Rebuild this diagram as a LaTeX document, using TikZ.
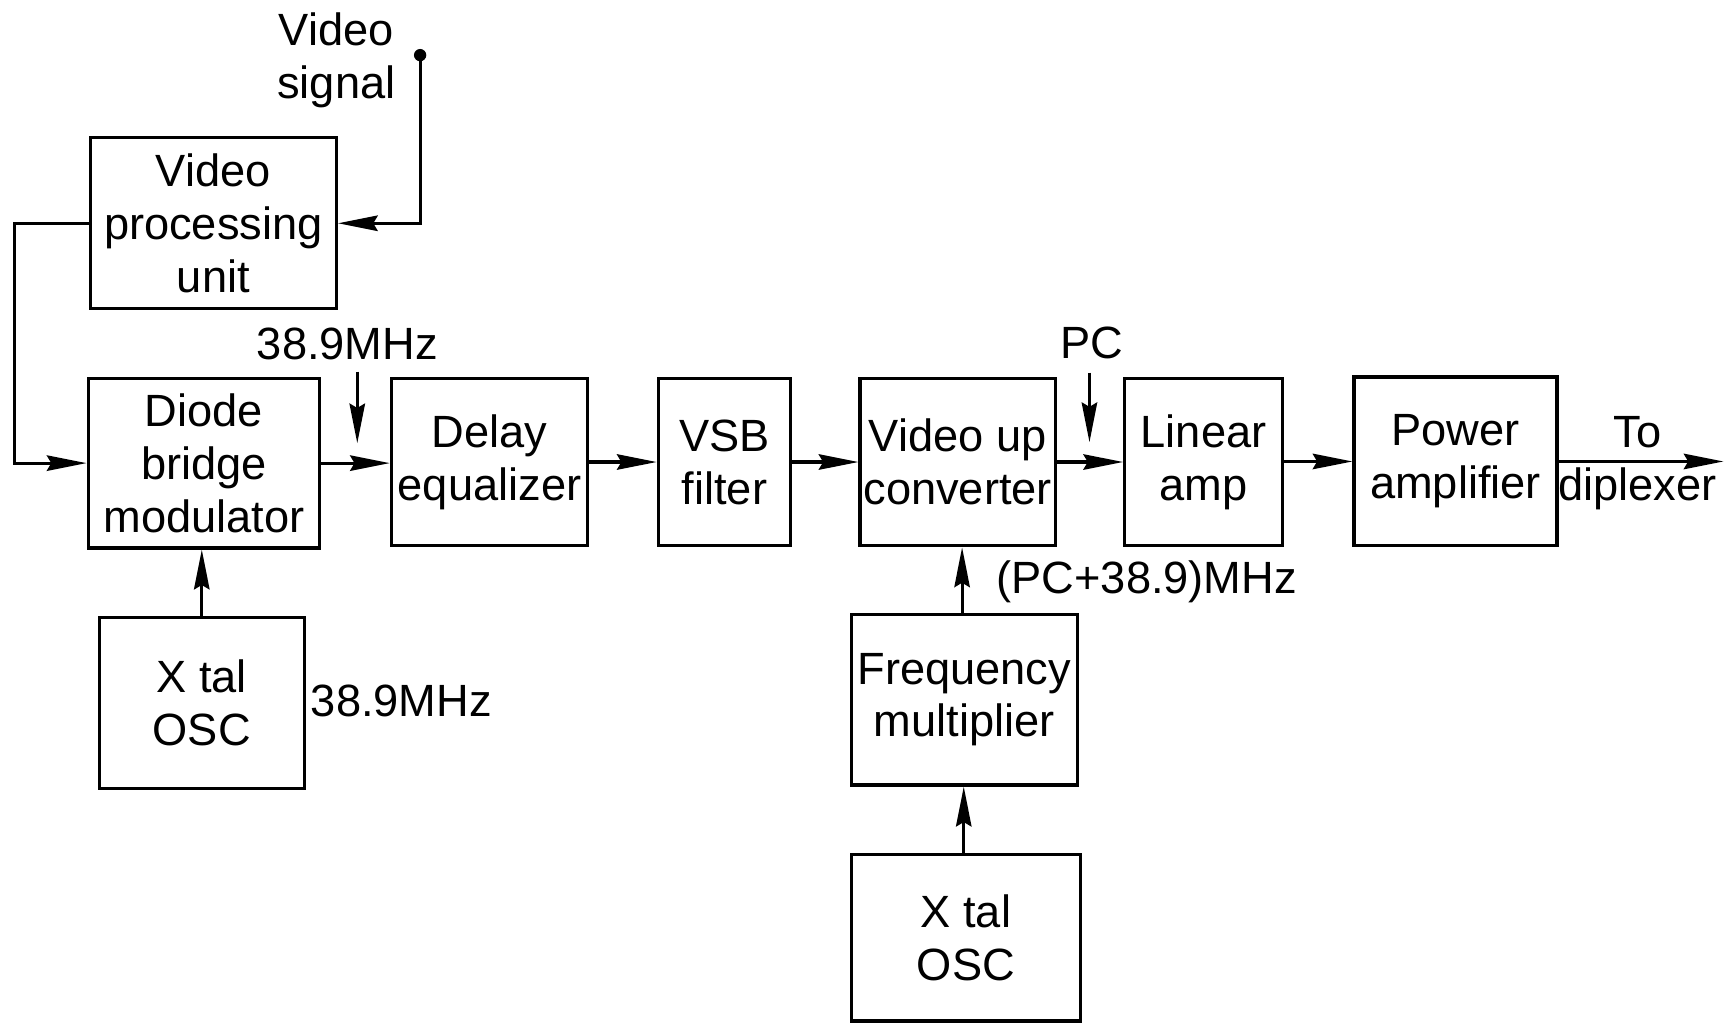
\documentclass[tikz,border=0pt]{standalone}
\usepackage{fontspec}
\setmainfont{Liberation Sans}
\usetikzlibrary{arrows.meta}
\begin{document}
\begin{tikzpicture}[x=0.5pt,y=-0.5pt,
  blk/.style={draw, line width=1.5pt, inner sep=0pt, align=center, font=\fontsize{20.5}{24}\selectfont},
  lbl/.style={inner sep=0pt, align=center, font=\fontsize{20.5}{24}\selectfont},
  arr/.style={line width=1.4pt, -{Stealth[length=18pt,width=7pt,inset=2pt]}},
  ln/.style={line width=1.4pt}]
\useasboundingbox[fill=white] (0,0) rectangle (1568,929);
% blocks
\node[blk, minimum width=111.5pt, minimum height=77.5pt] (vpu) at (193.5,202.5) {Video\\processing\\unit};
\node[blk, minimum width=105pt, minimum height=77pt] (dbm) at (185,420) {Diode\\bridge\\modulator};
\node[blk, minimum width=89pt, minimum height=76pt] (de) at (444,419) {Delay\\equalizer};
\node[blk, minimum width=60pt, minimum height=76pt] (vsb) at (657,419) {VSB\\filter};
\node[blk, minimum width=88.5pt, minimum height=76pt] (vuc) at (868.5,419) {Video up\\converter};
\node[blk, minimum width=71.5pt, minimum height=76pt] (la) at (1091.5,419) {Linear\\amp};
\node[blk, minimum width=92pt, minimum height=76.5pt] (pa) at (1320,418.5) {Power\\amplifier};
\node[blk, minimum width=102.5pt, minimum height=77.5pt] (fm) at (874.5,634.5) {Frequency\\multiplier};
\node[blk, minimum width=104pt, minimum height=75.5pt] (xo2) at (876,850.5) {X tal\\OSC};
\node[blk, minimum width=93pt, minimum height=77.5pt] (xo1) at (183,637.5) {X tal\\OSC};
% labels
\node[lbl] (vs) at (305,55) {Video\\signal};
\node[lbl] (f1) at (315,312) {38.9MHz};
\node[lbl] (pc) at (990,311) {PC};
\node[lbl] (pcf) at (1040,528) {(PC+38.9)MHz};
\node[lbl] (f2) at (364,636) {38.9MHz};
\node[lbl] (dip) at (1485,420) {To\\diplexer};
% coordinates
\coordinate (dot) at (381,50);
\coordinate (f1a) at (324,402);
\coordinate (pca) at (988,401);
\coordinate (out) at (1563,418.5);
% connectors
\fill (dot) circle[radius=2.8pt];
\draw[arr] (dot) |- (vpu.east);
\draw[arr] (vpu.west) -- ++(-67,0) |- (dbm.west);
\draw[arr] (dbm.east) -- (dbm.east -| de.west);
\draw[arr] (de.east) -- (vsb.west);
\draw[arr] (vsb.east) -- (vuc.west);
\draw[arr] (vuc.east) -- (la.west);
\draw[arr] (la.east |- pa.west) -- (pa.west);
\draw[arr] (pa.east) -- (out);
\draw[arr] ([yshift=-5pt]f1.south -| f1a) -- (f1a);
\draw[arr] ([yshift=-6pt]pc.south -| pca) -- (pca);
\draw[arr] (xo1.north) -- (xo1.north |- dbm.south);
\draw[arr] ([xshift=-1pt]fm.north) -- ([xshift=-1pt]fm.north |- vuc.south);
\draw[arr] ([xshift=-1pt]xo2.north) -- ([xshift=-1pt]xo2.north |- fm.south);
\end{tikzpicture}
\end{document}
